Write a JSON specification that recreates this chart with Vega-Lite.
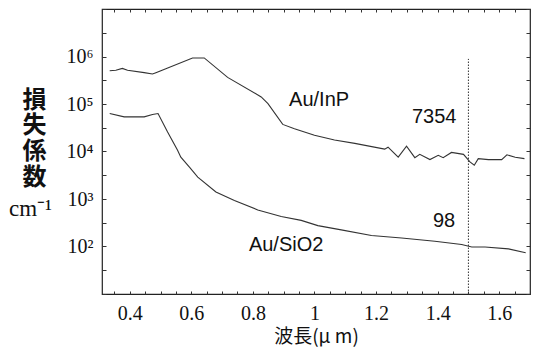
{
  "$schema": "https://vega.github.io/schema/vega-lite/v6.json",
  "width": 428,
  "height": 285,
  "autosize": {"type": "none"},
  "padding": {"left": 102, "top": 9, "right": 4, "bottom": 63},
  "background": "white",
  "config": {
    "view": {"stroke": "#222", "strokeWidth": 1.2},
    "axis": {"domain": false, "grid": false, "tickColor": "#333", "labelColor": "#111", "titleColor": "#111"}
  },
  "datasets": {
    "curves": [
      {"sample": "Au/InP", "wl": 0.335, "loss": 501000},
      {"sample": "Au/InP", "wl": 0.355, "loss": 513000},
      {"sample": "Au/InP", "wl": 0.376, "loss": 562000},
      {"sample": "Au/InP", "wl": 0.393, "loss": 513000},
      {"sample": "Au/InP", "wl": 0.447, "loss": 457000},
      {"sample": "Au/InP", "wl": 0.474, "loss": 427000},
      {"sample": "Au/InP", "wl": 0.485, "loss": 457000},
      {"sample": "Au/InP", "wl": 0.604, "loss": 933000},
      {"sample": "Au/InP", "wl": 0.642, "loss": 933000},
      {"sample": "Au/InP", "wl": 0.718, "loss": 363000},
      {"sample": "Au/InP", "wl": 0.827, "loss": 141000},
      {"sample": "Au/InP", "wl": 0.849, "loss": 102000},
      {"sample": "Au/InP", "wl": 0.897, "loss": 37200},
      {"sample": "Au/InP", "wl": 0.935, "loss": 30200},
      {"sample": "Au/InP", "wl": 1.0, "loss": 21900},
      {"sample": "Au/InP", "wl": 1.065, "loss": 17400},
      {"sample": "Au/InP", "wl": 1.131, "loss": 14800},
      {"sample": "Au/InP", "wl": 1.228, "loss": 11200},
      {"sample": "Au/InP", "wl": 1.239, "loss": 12300},
      {"sample": "Au/InP", "wl": 1.272, "loss": 7590},
      {"sample": "Au/InP", "wl": 1.299, "loss": 12900},
      {"sample": "Au/InP", "wl": 1.326, "loss": 7410},
      {"sample": "Au/InP", "wl": 1.342, "loss": 8710},
      {"sample": "Au/InP", "wl": 1.375, "loss": 6760},
      {"sample": "Au/InP", "wl": 1.402, "loss": 8320},
      {"sample": "Au/InP", "wl": 1.418, "loss": 7410},
      {"sample": "Au/InP", "wl": 1.445, "loss": 9550},
      {"sample": "Au/InP", "wl": 1.484, "loss": 8710},
      {"sample": "Au/InP", "wl": 1.505, "loss": 6030},
      {"sample": "Au/InP", "wl": 1.519, "loss": 5130},
      {"sample": "Au/InP", "wl": 1.532, "loss": 7080},
      {"sample": "Au/InP", "wl": 1.565, "loss": 6760},
      {"sample": "Au/InP", "wl": 1.608, "loss": 6760},
      {"sample": "Au/InP", "wl": 1.625, "loss": 8510},
      {"sample": "Au/InP", "wl": 1.652, "loss": 7590},
      {"sample": "Au/InP", "wl": 1.682, "loss": 7080},
      {"sample": "Au/SiO2", "wl": 0.335, "loss": 63100},
      {"sample": "Au/SiO2", "wl": 0.382, "loss": 53700},
      {"sample": "Au/SiO2", "wl": 0.447, "loss": 53700},
      {"sample": "Au/SiO2", "wl": 0.474, "loss": 60300},
      {"sample": "Au/SiO2", "wl": 0.492, "loss": 63100},
      {"sample": "Au/SiO2", "wl": 0.523, "loss": 25700},
      {"sample": "Au/SiO2", "wl": 0.555, "loss": 10700},
      {"sample": "Au/SiO2", "wl": 0.566, "loss": 7590},
      {"sample": "Au/SiO2", "wl": 0.594, "loss": 4680},
      {"sample": "Au/SiO2", "wl": 0.621, "loss": 2880},
      {"sample": "Au/SiO2", "wl": 0.68, "loss": 1410},
      {"sample": "Au/SiO2", "wl": 0.74, "loss": 933},
      {"sample": "Au/SiO2", "wl": 0.816, "loss": 589},
      {"sample": "Au/SiO2", "wl": 0.892, "loss": 427},
      {"sample": "Au/SiO2", "wl": 0.957, "loss": 355},
      {"sample": "Au/SiO2", "wl": 1.011, "loss": 275},
      {"sample": "Au/SiO2", "wl": 1.087, "loss": 224},
      {"sample": "Au/SiO2", "wl": 1.185, "loss": 170},
      {"sample": "Au/SiO2", "wl": 1.283, "loss": 151},
      {"sample": "Au/SiO2", "wl": 1.391, "loss": 129},
      {"sample": "Au/SiO2", "wl": 1.478, "loss": 110},
      {"sample": "Au/SiO2", "wl": 1.511, "loss": 97.7},
      {"sample": "Au/SiO2", "wl": 1.554, "loss": 97.7},
      {"sample": "Au/SiO2", "wl": 1.63, "loss": 89.1},
      {"sample": "Au/SiO2", "wl": 1.686, "loss": 74.1}
    ],
    "marker": [{"wl": 1.5, "lo": 10, "hi": 890000}],
    "notes": [
      {"wl": 1.015, "loss": 123000, "text": "Au/InP"},
      {"wl": 1.389, "loss": 53700, "text": "7354"},
      {"wl": 1.421, "loss": 347, "text": "98"},
      {"wl": 0.908, "loss": 105, "text": "Au/SiO2"}
    ]
  },
  "resolve": {"axis": {"x": "independent", "y": "independent"}},
  "layer": [
    {
      "data": {"name": "curves"},
      "mark": {"type": "line", "color": "#333", "strokeWidth": 1.1, "clip": true},
      "encoding": {
        "x": {
          "field": "wl", "type": "quantitative",
          "scale": {"domain": [0.31, 1.7], "nice": false, "zero": false},
          "axis": {
            "orient": "bottom",
            "values": [0.35, 0.4, 0.45, 0.5, 0.55, 0.6, 0.65, 0.7, 0.75, 0.8, 0.85, 0.9, 0.95, 1, 1.05, 1.1, 1.15, 1.2, 1.25, 1.3, 1.35, 1.4, 1.45, 1.5, 1.55, 1.6, 1.65, 1.7],
            "labelExpr": "indexof([0.4, 0.6, 0.8, 1, 1.2, 1.4, 1.6], datum.value) >= 0 ? format(datum.value, '~g') : ''",
            "labelOverlap": false,
            "labelFlush": false,
            "tickSize": -3,
            "labelPadding": 12,
            "labelFont": "Liberation Serif",
            "labelFontSize": 20,
            "title": "波長(μ m)",
            "titleFont": "Noto Sans CJK JP",
            "titleFontSize": 19,
            "titleFontWeight": "normal",
            "titlePadding": 4
          }
        },
        "y": {
          "field": "loss", "type": "quantitative",
          "scale": {"type": "log", "domain": [10, 10000000], "nice": false},
          "axis": {
            "orient": "left",
            "values": [10, 31.62, 100, 316.2, 1000, 3162, 10000, 31620, 100000, 316200, 1000000, 3162000, 10000000],
            "labelExpr": "datum.value == 100 ? '10²' : datum.value == 1000 ? '10³' : datum.value == 10000 ? '10⁴' : datum.value == 100000 ? '10⁵' : datum.value == 1000000 ? '10⁶' : ''",
            "labelOverlap": false,
            "labelFlush": false,
            "tickSize": -4,
            "labelPadding": 13,
            "labelFont": "Liberation Serif",
            "labelFontSize": 20,
            "title": ["損", "失", "係", "数"],
            "titleAngle": 0,
            "titleAlign": "center",
            "titleBaseline": "middle",
            "titleX": -68,
            "titleY": 91,
            "titleFont": "Noto Sans CJK JP",
            "titleFontSize": 24,
            "titleFontWeight": "bold",
            "titleLineHeight": 25.7
          }
        },
        "detail": {"field": "sample", "type": "nominal"}
      }
    },
    {
      "data": {"name": "marker"},
      "mark": {"type": "rule", "color": "#333", "strokeWidth": 1, "strokeDash": [1.5, 1.5]},
      "encoding": {
        "x": {
          "field": "wl", "type": "quantitative",
          "axis": {
            "orient": "top",
            "values": [0.35, 0.4, 0.45, 0.5, 0.55, 0.6, 0.65, 0.7, 0.75, 0.8, 0.85, 0.9, 0.95, 1, 1.05, 1.1, 1.15, 1.2, 1.25, 1.3, 1.35, 1.4, 1.45, 1.5, 1.55, 1.6, 1.65, 1.7],
            "labels": false,
            "tickSize": -3,
            "title": null
          }
        },
        "y": {
          "field": "lo", "type": "quantitative",
          "axis": {
            "orient": "right",
            "values": [10, 31.62, 100, 316.2, 1000, 3162, 10000, 31620, 100000, 316200, 1000000, 3162000, 10000000],
            "labels": false,
            "tickSize": -4,
            "title": "cm⁻¹",
            "titleAngle": 0,
            "titleAlign": "center",
            "titleBaseline": "middle",
            "titleX": -500,
            "titleY": 199,
            "titleFont": "Liberation Serif",
            "titleFontSize": 23,
            "titleFontWeight": "normal"
          }
        },
        "y2": {"field": "hi"}
      }
    },
    {
      "data": {"name": "notes"},
      "mark": {"type": "text", "font": "Liberation Sans", "fontSize": 20, "color": "#111", "align": "center", "baseline": "middle"},
      "encoding": {
        "x": {"field": "wl", "type": "quantitative", "axis": null},
        "y": {"field": "loss", "type": "quantitative", "axis": null},
        "text": {"field": "text"}
      }
    }
  ]
}
